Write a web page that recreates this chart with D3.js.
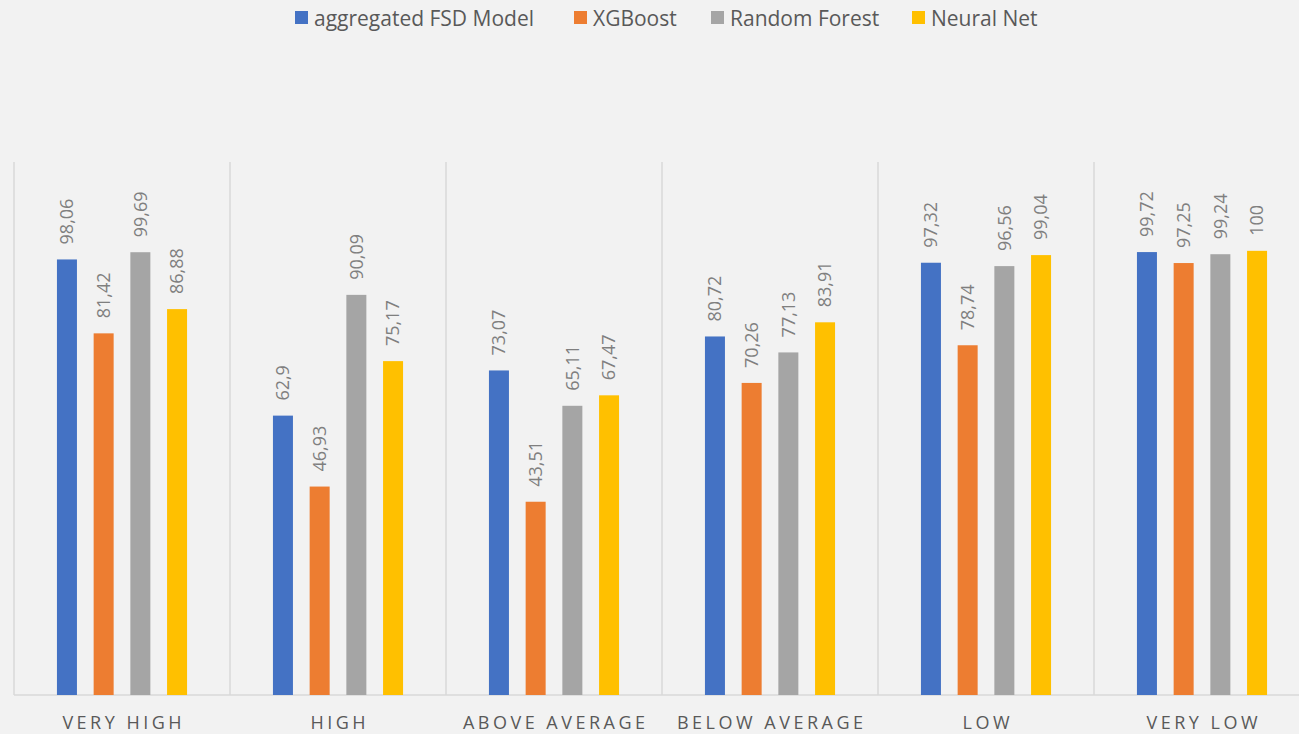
<!DOCTYPE html>
<html><head><meta charset="utf-8">
<script src="https://cdn.jsdelivr.net/npm/d3@7"></script>
<style>
html,body{margin:0;padding:0;background:#f2f2f2;}
svg{display:block;font-family:"Open Sans",sans-serif;}
</style></head>
<body><svg id="c" width="1299" height="734"></svg>
<script>
const categories = ["VERY HIGH","HIGH","ABOVE AVERAGE","BELOW AVERAGE","LOW","VERY LOW"];
const seriesNames = ["aggregated FSD Model","XGBoost","Random Forest","Neural Net"];
const fsd   = [98.06, 62.9, 73.07, 80.72, 97.32, 99.72];
const xgb   = [81.42, 46.93, 43.51, 70.26, 78.74, 97.25];
const rf    = [99.69, 90.09, 65.11, 77.13, 96.56, 99.24];
const nn    = [86.88, 75.17, 67.47, 83.91, 99.04, 100];
const colors = ["#4472c4","#ed7d31","#a5a5a5","#ffc000"];
const seriesValues = [fsd, xgb, rf, nn];

(function(){
const svg = d3.select("#c");
const W = 1299;
const left = 14, catW = 216, plotTop = 162, plotBottom = 695;

const x = d3.scaleBand().domain(categories).range([left, left + catW*categories.length]).padding(0);
const xs = d3.scaleBand().domain(seriesNames).range([26.25, 189.75]).padding(0.455);
const y = d3.scaleLinear().domain([0,120]).range([plotBottom, plotTop]);

const seps = categories.map(c => x(c)).concat([x(categories[categories.length-1]) + x.bandwidth()]);
svg.append("g").selectAll("line").data(seps).join("line")
  .attr("x1", d=>d).attr("x2", d=>d).attr("y1", plotTop).attr("y2", plotBottom)
  .attr("stroke","#d9d9d9").attr("stroke-width",1.5);
svg.append("line").attr("x1",left).attr("x2",W).attr("y1",plotBottom).attr("y2",plotBottom)
  .attr("stroke","#d9d9d9").attr("stroke-width",1.5);

const data = [];
categories.forEach((c,i)=>seriesNames.forEach((s,j)=>data.push({c,s,j,v:seriesValues[j][i]})));
const g = svg.append("g");
g.selectAll("rect").data(data).join("rect")
  .attr("x", d=>x(d.c)+xs(d.s)).attr("width", xs.bandwidth())
  .attr("y", d=>y(d.v)).attr("height", d=>plotBottom - y(d.v))
  .attr("fill", d=>colors[d.j]);

const fmt = v => String(v).replace(".", ",");
g.selectAll("text").data(data).join("text")
  .attr("transform", d=>`translate(${x(d.c)+xs(d.s)+xs.bandwidth()/2},${y(d.v)-15}) rotate(-90)`)
  .attr("dy","0.35em")
  .attr("font-size",18).attr("fill","#7f7f7f")
  .text(d=>fmt(d.v));

svg.append("g").selectAll("text").data(categories).join("text")
  .attr("x", d=>x(d)+x.bandwidth()/2 + 1.75).attr("y", 729)
  .attr("text-anchor","middle").attr("font-size",18).attr("letter-spacing","3.5px")
  .attr("fill","#595959").text(d=>d);

const legX = [295, 574, 711, 912];
const lg = svg.append("g").selectAll("g").data(seriesNames).join("g")
  .attr("transform",(d,i)=>`translate(${legX[i]},0)`);
lg.append("rect").attr("x",0).attr("y",11).attr("width",13).attr("height",13).attr("fill",(d,i)=>colors[i]);
lg.append("text").attr("x",19).attr("y",26).attr("font-size",21).attr("fill","#595959").text(d=>d);
})();
</script></body></html>
